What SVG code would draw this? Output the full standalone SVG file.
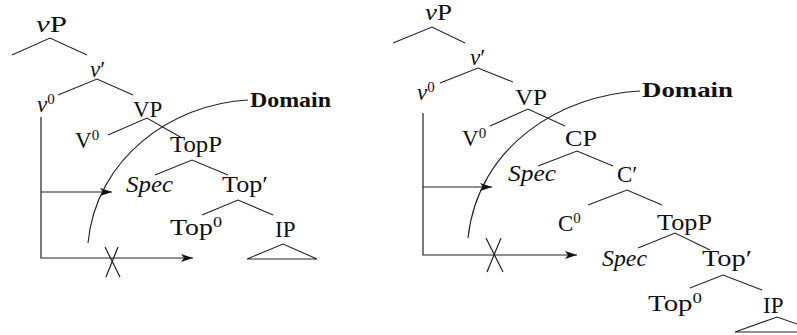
<svg xmlns="http://www.w3.org/2000/svg" width="797" height="335" viewBox="0 0 797 335">
<style>
.t{font-family:"Liberation Serif","Times New Roman",serif;font-size:23px;fill:#111}
.i{font-style:italic}
.s{font-size:15px}
.d{font-family:"Liberation Serif","Times New Roman",serif;font-weight:bold;font-size:22px;fill:#111}
.e{fill:none;stroke:#222;stroke-width:1.1}
.a{fill:none;stroke:#222;stroke-width:1.2}
</style>
<defs>
<marker id="ah" markerUnits="userSpaceOnUse" markerWidth="14" markerHeight="10" refX="12" refY="4" orient="auto">
<path d="M0,0 L12,4 L0,8 L3,4 z" fill="#111"/>
</marker>
</defs>
<rect width="797" height="335" fill="#fff"/>
<g id="connectors">
<path class="e" d="M12,55 L50,38 L87,55"/>
<path class="e" d="M58,95 L97,79 L133,95"/>
<path class="e" d="M108,135 L147,118 L182,138"/>
<path class="e" d="M155,175 L192,160 L228,175"/>
<path class="e" d="M202,215 L238,200 L273,215"/>
<path class="e" d="M247,259 L283,244 L317,259 Z"/>
<path class="a" d="M41,117 V258 H193" marker-end="url(#ah)"/>
<path class="a" d="M41,192 H112" marker-end="url(#ah)"/>
<path class="a" d="M105,247 L120,277 M118,247 L106,277"/>
<path class="e" d="M248,100 C172,104 96,158 88,243"/>
<path class="e" d="M393,43 L432,27 L465,43"/>
<path class="e" d="M440,83 L478,68 L513,82"/>
<path class="e" d="M490,126 L528,109 L565,126"/>
<path class="e" d="M538,166 L577,151 L613,166"/>
<path class="e" d="M588,205 L627,190 L662,205"/>
<path class="e" d="M638,248 L675,233 L710,250"/>
<path class="e" d="M690,288 L723,275 L762,290"/>
<path class="e" d="M735,332 L777,317 L820,332 Z"/>
<path class="a" d="M423,113 V255 H577" marker-end="url(#ah)"/>
<path class="a" d="M423,187 H492" marker-end="url(#ah)"/>
<path class="a" d="M486,238 L503,272 M501,238 L487,272"/>
<path class="e" d="M640,91 C562,95 478,145 468,238"/>
</g>
<g id="L-vP"><text class="t" x="36" y="32" textLength="31" lengthAdjust="spacingAndGlyphs"><tspan class="i">v</tspan>P</text></g>
<g id="L-vbar"><text class="t" x="90" y="77"><tspan class="i">v</tspan>′</text></g>
<g id="L-v0"><text class="t" x="37" y="112"><tspan class="i">v</tspan><tspan class="s" dy="-8">0</tspan></text></g>
<g id="L-VP"><text class="t" x="133" y="117">VP</text></g>
<g id="L-V0"><text class="t" x="75" y="148">V<tspan class="s" dy="-8">0</tspan></text></g>
<g id="L-TopP"><text class="t" x="170" y="152" textLength="52" lengthAdjust="spacingAndGlyphs">TopP</text></g>
<g id="L-Spec"><text class="t i" x="126" y="192" textLength="47" lengthAdjust="spacingAndGlyphs">Spec</text></g>
<g id="L-Topbar"><text class="t" x="222" y="192" textLength="46" lengthAdjust="spacingAndGlyphs">Top′</text></g>
<g id="L-Top0"><text class="t" x="170" y="235" textLength="52" lengthAdjust="spacingAndGlyphs">Top<tspan class="s" dy="-8">0</tspan></text></g>
<g id="L-IP"><text class="t" x="275" y="237">IP</text></g>
<g id="L-Domain"><text class="d" x="250" y="107" textLength="81" lengthAdjust="spacingAndGlyphs">Domain</text></g>
<g id="R-vP"><text class="t" x="425" y="20" textLength="27" lengthAdjust="spacingAndGlyphs"><tspan class="i">v</tspan>P</text></g>
<g id="R-vbar"><text class="t" x="470" y="65"><tspan class="i">v</tspan>′</text></g>
<g id="R-v0"><text class="t" x="417" y="100"><tspan class="i">v</tspan><tspan class="s" dy="-8">0</tspan></text></g>
<g id="R-VP"><text class="t" x="515" y="105" textLength="32" lengthAdjust="spacingAndGlyphs">VP</text></g>
<g id="R-V0"><text class="t" x="462" y="146">V<tspan class="s" dy="-8">0</tspan></text></g>
<g id="R-CP"><text class="t" x="565" y="146" textLength="32" lengthAdjust="spacingAndGlyphs">CP</text></g>
<g id="R-Spec1"><text class="t i" x="508" y="181" textLength="48" lengthAdjust="spacingAndGlyphs">Spec</text></g>
<g id="R-Cbar"><text class="t" x="617" y="182">C′</text></g>
<g id="R-C0"><text class="t" x="558" y="231">C<tspan class="s" dy="-8">0</tspan></text></g>
<g id="R-TopP"><text class="t" x="657" y="230" textLength="55" lengthAdjust="spacingAndGlyphs">TopP</text></g>
<g id="R-Spec2"><text class="t i" x="602" y="266" textLength="45" lengthAdjust="spacingAndGlyphs">Spec</text></g>
<g id="R-Topbar"><text class="t" x="702" y="266" textLength="50" lengthAdjust="spacingAndGlyphs">Top′</text></g>
<g id="R-Top0"><text class="t" x="648" y="311" textLength="54" lengthAdjust="spacingAndGlyphs">Top<tspan class="s" dy="-8">0</tspan></text></g>
<g id="R-IP"><text class="t" x="763" y="313">IP</text></g>
<g id="R-Domain"><text class="d" x="642" y="97" textLength="91" lengthAdjust="spacingAndGlyphs">Domain</text></g>
</svg>
